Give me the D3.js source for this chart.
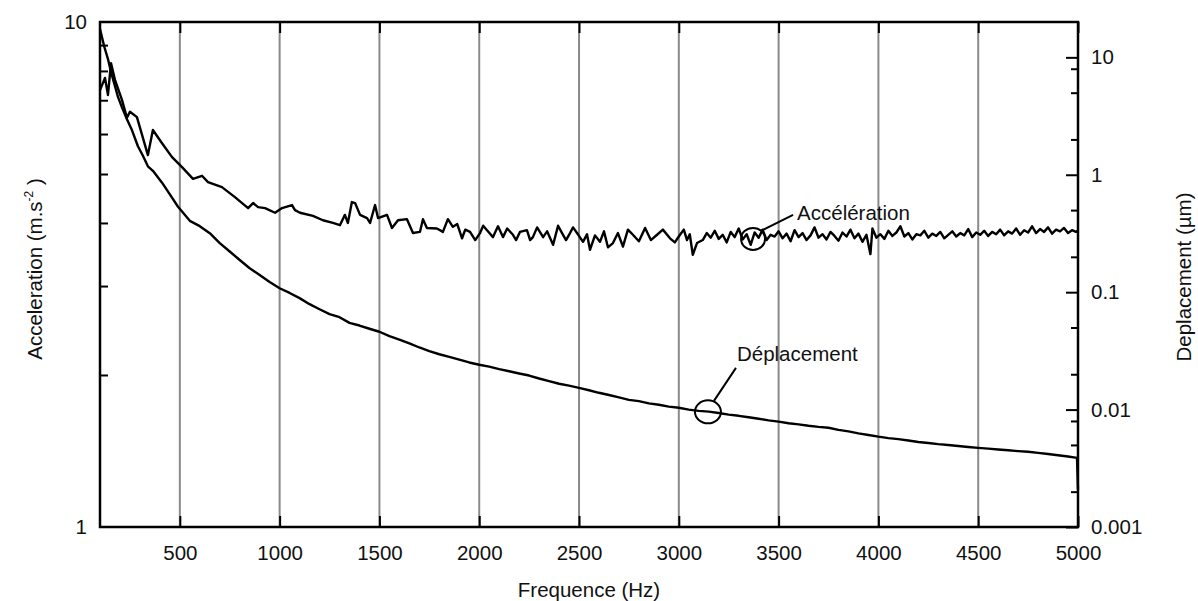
<html>
<script src="https://d3js.org/d3.v7.min.js"></script>
<style>
  body { margin: 0; background: #fff; }
  svg text { font-family: "Liberation Sans", Arial, Helvetica, sans-serif; fill: #111; }
</style>
<body>
<svg width="1198" height="601"></svg>
<script>
// acceleration spectrum (left axis, m.s-2)
const accFreq = [100, 125, 140, 155, 175, 210, 235, 250, 285, 340, 365, 410, 461, 511, 566, 611, 641, 711, 776, 842,
  867, 892, 927, 977, 1012, 1062, 1077, 1102, 1167, 1217, 1267, 1302, 1327, 1342, 1362, 1378, 1403, 1438, 1453, 1478,
  1493, 1538, 1563, 1593, 1638, 1668, 1703, 1718, 1738, 1788, 1818, 1843, 1868, 1890, 1914, 1930, 1954, 1980, 2004, 2020,
  2039, 2069, 2094, 2119, 2140, 2169, 2185, 2204, 2239, 2255, 2269, 2290, 2320, 2340, 2370, 2395, 2415, 2435, 2455, 2470,
  2490, 2520, 2540, 2555, 2580, 2605, 2625, 2645, 2670, 2695, 2720, 2745, 2770, 2800, 2831, 2860, 2891, 2920, 2956, 2980,
  3006, 3025, 3041, 3055, 3070, 3091, 3120, 3140, 3160, 3180, 3200, 3220, 3240, 3260, 3280, 3300, 3320, 3340, 3360, 3380,
  3400, 3420, 3440, 3460, 3480, 3500, 3520, 3540, 3560, 3580, 3600, 3620, 3640, 3660, 3680, 3700, 3720, 3740, 3760, 3780,
  3800, 3820, 3840, 3860, 3880, 3900, 3920, 3940, 3960, 3970, 3990, 4010, 4030, 4050, 4070, 4090, 4110, 4130, 4150, 4170,
  4190, 4210, 4230, 4250, 4270, 4290, 4310, 4330, 4350, 4370, 4390, 4410, 4430, 4450, 4470, 4490, 4510, 4530, 4550, 4570,
  4590, 4610, 4630, 4650, 4670, 4690, 4710, 4730, 4750, 4770, 4790, 4810, 4830, 4850, 4870, 4890, 4910, 4930, 4950, 4970,
  4990, 5000];
const accValue = [7.33, 7.75, 7.17, 8.29, 7.68, 7.01, 6.46, 6.64, 6.48, 5.45, 6.11, 5.76, 5.40, 5.16, 4.89, 4.96, 4.82, 4.71, 4.50, 4.28,
  4.38, 4.30, 4.28, 4.19, 4.28, 4.34, 4.24, 4.19, 4.13, 4.05, 4.00, 3.96, 4.15, 4.00, 4.40, 4.38, 4.15, 4.09, 4.00, 4.34,
  4.09, 4.15, 3.91, 4.05, 4.07, 3.82, 3.84, 4.07, 3.91, 3.90, 3.84, 4.07, 3.93, 3.98, 3.73, 3.88, 3.84, 3.70, 3.82, 3.95,
  3.87, 3.75, 3.94, 3.75, 3.90, 3.79, 3.70, 3.84, 3.87, 3.70, 3.75, 3.92, 3.75, 3.85, 3.62, 3.95, 3.82, 3.70, 3.82, 3.92,
  3.82, 3.67, 3.80, 3.54, 3.78, 3.67, 3.85, 3.58, 3.65, 3.82, 3.59, 3.88, 3.79, 3.68, 3.91, 3.70, 3.79, 3.88, 3.73, 3.66,
  3.79, 3.88, 3.70, 3.80, 3.46, 3.65, 3.70, 3.82, 3.74, 3.86, 3.72, 3.79, 3.66, 3.84, 3.75, 3.90, 3.71, 3.80, 3.62, 3.83,
  3.74, 3.88, 3.70, 3.79, 3.76, 3.85, 3.73, 3.81, 3.68, 3.87, 3.75, 3.82, 3.70, 3.78, 3.92, 3.74, 3.80, 3.71, 3.84, 3.77,
  3.69, 3.83, 3.76, 3.88, 3.73, 3.81, 3.67, 3.79, 3.47, 3.90, 3.74, 3.80, 3.72, 3.86, 3.77, 3.83, 3.94, 3.76, 3.82, 3.71,
  3.80, 3.78, 3.86, 3.74, 3.81, 3.77, 3.84, 3.73, 3.79, 3.85, 3.76, 3.82, 3.78, 3.89, 3.75, 3.83, 3.79, 3.86, 3.77, 3.84,
  3.80, 3.88, 3.78, 3.85, 3.81, 3.90, 3.79, 3.87, 3.83, 3.94, 3.82, 3.89, 3.84, 3.92, 3.81, 3.88, 3.85, 3.91, 3.82, 3.87,
  3.84, 3.86];

// displacement (right axis, µm)
const depFreq = [100, 110, 120, 130, 140, 150, 160, 175, 190, 210, 235, 260, 290, 315, 340, 365, 410, 450, 490, 550,
  600, 650, 700, 750, 800, 850, 900, 950, 1000, 1050, 1100, 1150, 1200, 1250, 1300, 1350, 1400, 1450, 1500, 1550,
  1600, 1650, 1700, 1750, 1800, 1850, 1900, 1950, 2000, 2050, 2100, 2150, 2200, 2250, 2300, 2350, 2400, 2450, 2500, 2550,
  2600, 2650, 2700, 2750, 2800, 2850, 2900, 2950, 3000, 3050, 3100, 3150, 3200, 3250, 3300, 3350, 3400, 3450, 3500, 3550,
  3600, 3650, 3700, 3750, 3800, 3850, 3900, 3950, 4000, 4050, 4100, 4150, 4200, 4250, 4300, 4350, 4400, 4450, 4500, 4550,
  4600, 4650, 4700, 4750, 4800, 4850, 4900, 4950, 4995, 5000];
const depValue = [17.4, 14.8, 12.6, 11.0, 9.66, 8.2, 7.0, 5.67, 4.6, 3.75, 2.97, 2.4, 1.75, 1.45, 1.18, 1.08, 0.861, 0.68, 0.537, 0.405,
  0.365, 0.318, 0.262, 0.222, 0.188, 0.160, 0.140, 0.122, 0.108, 0.0985, 0.0890, 0.0790, 0.0715, 0.0650, 0.0612, 0.0548, 0.0520, 0.0488, 0.0460, 0.0422,
  0.0395, 0.0367, 0.0338, 0.0315, 0.0296, 0.0281, 0.0266, 0.0252, 0.0241, 0.0232, 0.0221, 0.0212, 0.0203, 0.0195, 0.0184, 0.0175, 0.0166, 0.0160, 0.0153, 0.0146,
  0.0139, 0.0133, 0.0127, 0.0121, 0.0118, 0.0113, 0.0110, 0.0106, 0.01036, 0.0100, 0.00975, 0.00960, 0.00935, 0.00905, 0.00885, 0.00860, 0.00835, 0.00810, 0.00790, 0.00765,
  0.00748, 0.00728, 0.00712, 0.00700, 0.00672, 0.00652, 0.00628, 0.00608, 0.00588, 0.00572, 0.00560, 0.00545, 0.00530, 0.00520, 0.00508, 0.00500, 0.00490, 0.00480, 0.00472, 0.00465,
  0.00457, 0.00450, 0.00443, 0.00437, 0.00428, 0.00418, 0.00408, 0.00398, 0.00388, 0.00207];

const xTicks = [500, 1000, 1500, 2000, 2500, 3000, 3500, 4000, 4500, 5000];
const accTicks = [1, 10];
const accMinor = [2, 3, 4, 5, 6, 7, 8, 9];
const depTicks = [0.001, 0.01, 0.1, 1, 10];
const depMinor = [0.002, 0.005, 0.008, 0.02, 0.05, 0.2, 0.5, 2, 5, 8];

// annotation anchors, in data units
const accNote = { f: 3372, v: 3.72, label: "Accélération" };
const depNote = { f: 3146, v: 0.00957, label: "Déplacement" };

function main() {
  var mLeft = 100, mRight = 1078, mTop = 22, mBottom = 527;
  var fontSize = 20.5;

  var x = d3.scaleLinear().domain([100, 5000]).range([mLeft, mRight]);
  var yAcc = d3.scaleLog().domain([1, 10]).range([mBottom, mTop]);
  var yDep = d3.scaleLog().domain([0.001, 20]).range([mBottom, mTop]);

  var svg = d3.select("svg");

  // vertical grid
  svg.append("g")
    .selectAll("line")
    .data(xTicks.filter(d => d < 5000))
    .enter()
    .append("line")
    .attr("x1", d => x(d)).attr("x2", d => x(d))
    .attr("y1", mTop).attr("y2", mBottom)
    .attr("stroke", "#8a8a8a")
    .attr("stroke-width", 2);

  // bottom axis
  var gx = svg.append("g")
    .attr("transform", "translate(0," + mBottom + ")")
    .call(d3.axisBottom(x).tickValues(xTicks).tickFormat(d3.format("d"))
      .tickSizeInner(-11).tickSizeOuter(0).tickPadding(18));
  // top ticks
  var gxt = svg.append("g")
    .attr("transform", "translate(0," + mTop + ")")
    .call(d3.axisTop(x).tickValues(xTicks).tickFormat("")
      .tickSizeInner(-11).tickSizeOuter(0));

  // left axis
  var gl = svg.append("g")
    .attr("transform", "translate(" + mLeft + ",0)")
    .call(d3.axisLeft(yAcc).tickValues(accTicks).tickFormat(d3.format("d"))
      .tickSizeInner(0).tickSizeOuter(0).tickPadding(13));
  var glm = svg.append("g")
    .attr("transform", "translate(" + mLeft + ",0)")
    .call(d3.axisLeft(yAcc).tickValues(accMinor).tickFormat("")
      .tickSizeInner(-8).tickSizeOuter(0));

  // right axis
  var gr = svg.append("g")
    .attr("transform", "translate(" + mRight + ",0)")
    .call(d3.axisRight(yDep).tickValues(depTicks).tickFormat(d => String(d))
      .tickSizeInner(-12).tickSizeOuter(0).tickPadding(13));
  var grm = svg.append("g")
    .attr("transform", "translate(" + mRight + ",0)")
    .call(d3.axisRight(yDep).tickValues(depMinor).tickFormat("")
      .tickSizeInner(-7).tickSizeOuter(0));

  [gx, gxt, gl, glm, gr, grm].forEach(function (g) {
    g.select(".domain").remove();
    g.selectAll(".tick line").attr("stroke", "#000").attr("stroke-width", 2);
    g.selectAll(".tick text").attr("font-size", fontSize).attr("fill", "#111")
      .attr("font-family", '"Liberation Sans", Arial, sans-serif');
  });

  // curves
  var accLine = d3.line()
    .x((d, i) => x(accFreq[i]))
    .y(d => yAcc(d));
  var depLine = d3.line()
    .x((d, i) => x(depFreq[i]))
    .y(d => yDep(d));

  svg.append("path")
    .attr("d", accLine(accValue))
    .attr("fill", "none").attr("stroke", "#000")
    .attr("stroke-width", 2.4).attr("stroke-linejoin", "round");
  svg.append("path")
    .attr("d", depLine(depValue))
    .attr("fill", "none").attr("stroke", "#000")
    .attr("stroke-width", 2.4).attr("stroke-linejoin", "round");

  // frame
  svg.append("rect")
    .attr("x", mLeft).attr("y", mTop)
    .attr("width", mRight - mLeft).attr("height", mBottom - mTop)
    .attr("fill", "none").attr("stroke", "#000").attr("stroke-width", 2.5);

  // annotations
  var ax = x(accNote.f), ay = yAcc(accNote.v);
  svg.append("ellipse").attr("cx", ax).attr("cy", ay).attr("rx", 12).attr("ry", 11)
    .attr("fill", "none").attr("stroke", "#000").attr("stroke-width", 2);
  svg.append("line").attr("x1", ax + 8).attr("y1", ay - 8).attr("x2", ax + 40).attr("y2", ay - 24)
    .attr("stroke", "#000").attr("stroke-width", 2);
  svg.append("text").attr("x", ax + 44).attr("y", ay - 19)
    .attr("font-size", fontSize).text(accNote.label);

  var dx = x(depNote.f), dy = yDep(depNote.v);
  svg.append("ellipse").attr("cx", dx).attr("cy", dy).attr("rx", 13).attr("ry", 11.5)
    .attr("fill", "none").attr("stroke", "#000").attr("stroke-width", 2);
  svg.append("line").attr("x1", dx + 6).attr("y1", dy - 11).attr("x2", dx + 28).attr("y2", dy - 44)
    .attr("stroke", "#000").attr("stroke-width", 2);
  svg.append("text").attr("x", dx + 29).attr("y", dy - 51)
    .attr("font-size", fontSize).text(depNote.label);

  // axis titles
  svg.append("text")
    .attr("x", (mLeft + mRight) / 2).attr("y", 597)
    .attr("text-anchor", "middle").attr("font-size", fontSize)
    .text("Frequence (Hz)");

  var lt = svg.append("text")
    .attr("transform", "translate(42,269) rotate(-90)")
    .attr("text-anchor", "middle").attr("font-size", fontSize);
  lt.append("tspan").text("Acceleration (m.s");
  lt.append("tspan").attr("font-size", 12).attr("dy", -9).text("-2");
  lt.append("tspan").attr("dy", 9).text(" )");

  svg.append("text")
    .attr("transform", "translate(1191,277) rotate(-90)")
    .attr("text-anchor", "middle").attr("font-size", fontSize)
    .text("Deplacement (µm)");
}
main();
</script>
</body>
</html>
